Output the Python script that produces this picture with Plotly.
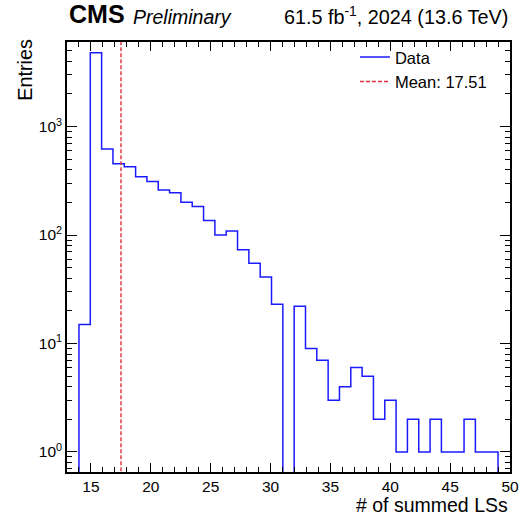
import numpy as np
import plotly.graph_objects as go

# ---- data ----
bin_low = 14.0
bin_high = 49.0
counts = [15, 4800, 620, 454, 426, 344, 312, 260, 245, 201, 183, 136, 100, 109,
          73, 55, 41, 23, 0, 22, 9, 7, 3, 4, 6, 5, 2, 3, 1, 2, 1, 2, 1, 1, 2, 1, 1]
mean_value = 17.51
x_ticks = [15, 20, 25, 30, 35, 40, 45, 50]
y_tickvals = [1, 10, 100, 1000]
y_ticktext = ["10<sup>0</sup>", "10<sup>1</sup>", "10<sup>2</sup>", "10<sup>3</sup>"]

edges = np.linspace(bin_low, bin_high, len(counts) + 1)
floor = 1e-3  # zero bins drawn below the visible range (log axis)
draw_counts = [c if c > 0 else floor for c in counts]

xs = [edges[0]] + list(edges)
ys = [floor] + draw_counts + [floor]

FONT = "Liberation Sans, Arial, sans-serif"

fig = go.Figure()
fig.add_trace(go.Scatter(
    x=xs, y=ys, mode="lines", line=dict(shape="hv", color="#1a1aff", width=1.5),
    name="Data"))
fig.add_trace(go.Scatter(
    x=[mean_value, mean_value], y=[1e-3, 1e5], mode="lines",
    line=dict(color="#e0303a", width=1.4, dash="4px,2px"),
    name=f"Mean: {mean_value:.2f}"))

minor_y = [m * 10 ** d for d in range(-1, 4) for m in range(2, 10)]

fig.update_layout(
    width=519, height=515, autosize=False,
    margin=dict(l=67, r=9, t=42, b=43, pad=0, autoexpand=False),
    paper_bgcolor="white", plot_bgcolor="white",
    font=dict(family=FONT, color="black", size=15),
    showlegend=True,
    legend=dict(x=0.65, y=1.005, xanchor="left", yanchor="top",
                bgcolor="rgba(0,0,0,0)", font=dict(size=16.5, family=FONT),
                tracegroupgap=0, itemwidth=30),
    xaxis=dict(range=[13, 50], tickvals=x_ticks, ticks="inside", ticklen=9,
               tickwidth=1, tickcolor="black", showline=True, linecolor="black",
               linewidth=1.5, mirror="allticks", showgrid=False, zeroline=False,
               tickfont=dict(size=15.5), automargin=False,
               minor=dict(dtick=1, tick0=0, ticks="inside", ticklen=5,
                          tickcolor="black", showgrid=False)),
    yaxis=dict(type="log", range=[-0.185, 3.78], tickvals=y_tickvals,
               ticktext=y_ticktext, ticks="inside", ticklen=10, tickwidth=1,
               tickcolor="black", showline=True, linecolor="black", linewidth=1.5,
               mirror="allticks", showgrid=False, zeroline=False,
               tickfont=dict(size=15.5), automargin=False,
               minor=dict(tickvals=minor_y, ticks="inside", ticklen=5,
                          tickcolor="black", showgrid=False)),
)

fig.add_annotation(text="# of summed LSs", xref="paper", yref="paper", x=1.0, y=-0.0455,
                   xanchor="right", yanchor="top", showarrow=False,
                   font=dict(size=19.5, family=FONT))
fig.add_annotation(text="Entries", xref="paper", yref="paper", x=-0.095, y=1.012,
                   xanchor="center", yanchor="top", textangle=-90, showarrow=False,
                   font=dict(size=19.8, family=FONT))

fig.add_annotation(text="<b>CMS</b>", xref="paper", yref="paper", x=0.0, y=1.027,
                   xanchor="left", yanchor="bottom", showarrow=False,
                   font=dict(size=25, family=FONT))
fig.add_annotation(text="<i>Preliminary</i>", xref="paper", yref="paper", x=0.145, y=1.027,
                   xanchor="left", yanchor="bottom", showarrow=False,
                   font=dict(size=19.5, family=FONT))
fig.add_annotation(text="61.5 fb<sup>-1</sup>, 2024 (13.6 TeV)", xref="paper", yref="paper",
                   x=1.0, y=1.027, xanchor="right", yanchor="bottom", showarrow=False,
                   font=dict(size=19.8, family=FONT))

fig.write_html("out.html")
